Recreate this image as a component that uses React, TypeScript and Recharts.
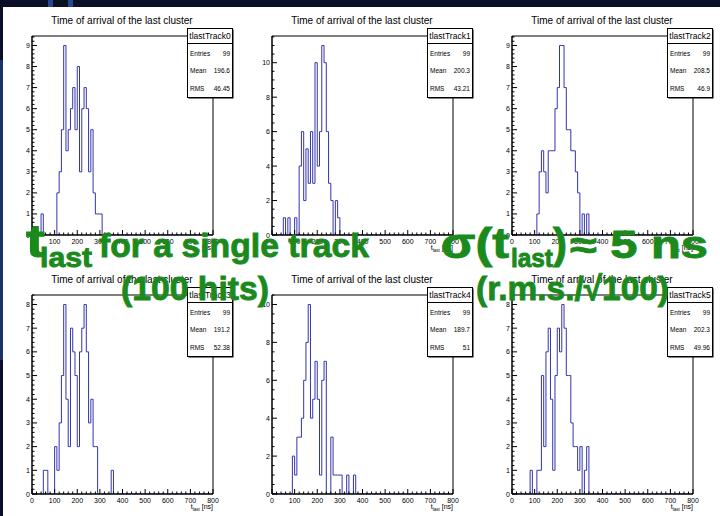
import React from "react";
import { LineChart, Line, XAxis, YAxis, ReferenceArea } from "recharts";

// histogram binning (ns)
const BIN_WIDTH = 10;
const X_MAX = 800;
const X_LABELS = [0, 100, 200, 300, 400, 500, 600, 700, 800];
const X_MINOR_STEP = 20;

const track0Bins = [40, 110, 120, 130, 140, 150, 160, 170, 180, 190, 200, 210, 220, 230, 240, 250, 260, 270, 280, 290, 300];
const track0Counts = [1, 2, 3, 5, 9, 4, 5, 6, 7, 5, 8, 3, 6, 7, 6, 3, 5, 2, 1, 1, 1];

const track1Bins = [50, 70, 100, 120, 130, 140, 150, 160, 170, 180, 190, 200, 210, 220, 230, 240, 250, 260, 280, 290];
const track1Counts = [1, 1, 1, 4, 6, 2, 5, 3, 6, 3, 10, 4, 6, 11, 10, 6, 3, 2, 2, 1];

const track2Bins = [110, 120, 130, 140, 150, 160, 170, 180, 190, 200, 210, 220, 230, 240, 250, 260, 270, 280, 290, 310, 330];
const track2Counts = [1, 3, 4, 3, 2, 4, 4, 4, 6, 7, 9, 9, 7, 5, 5, 4, 4, 3, 2, 1, 1];

const track3Bins = [50, 60, 100, 110, 120, 130, 140, 150, 160, 170, 180, 190, 200, 210, 220, 230, 240, 250, 260, 270, 280, 350];
const track3Counts = [1, 1, 2, 1, 3, 5, 8, 4, 2, 7, 6, 5, 2, 6, 7, 8, 6, 3, 4, 2, 2, 1];

const track4Bins = [90, 100, 110, 120, 130, 140, 150, 160, 170, 180, 190, 200, 210, 220, 230, 260, 270, 280, 290, 300, 330, 360];
const track4Counts = [2, 1, 3, 3, 4, 6, 8, 10, 4, 5, 7, 5, 1, 6, 7, 3, 1, 1, 1, 1, 1, 1];

const track5Bins = [80, 110, 120, 130, 140, 150, 160, 170, 180, 190, 200, 210, 220, 230, 240, 250, 260, 270, 280, 290, 300, 320, 330];
const track5Counts = [1, 1, 1, 5, 2, 6, 7, 4, 1, 5, 7, 6, 8, 7, 5, 5, 3, 2, 2, 1, 2, 1, 2];

// stats boxes
const trackNames = ["tlastTrack0", "tlastTrack1", "tlastTrack2", "tlastTrack3", "tlastTrack4", "tlastTrack5"];
const trackEntries = ["99", "99", "99", "99", "99", "99"];
const trackMeans = ["196.6", "200.3", "208.5", "191.2", "189.7", "202.3"];
const trackRms = ["46.45", "43.21", "46.9", "52.38", "51", "49.96"];

const allBins = [track0Bins, track1Bins, track2Bins, track3Bins, track4Bins, track5Bins];
const allCounts = [track0Counts, track1Counts, track2Counts, track3Counts, track4Counts, track5Counts];

const FONT = "'Liberation Sans', Arial, Helvetica, sans-serif";
const HIST_COLOR = "#3434b0";
const GREEN = "#1b8a1d";

const PAD_W = 240;
const PAD_H = 259;

function buildSeries(bins: number[], counts: number[]) {
  const rows: { t: number; n: number }[] = [];
  for (let t = 0; t <= X_MAX; t += BIN_WIDTH) {
    const i = bins.indexOf(t);
    rows.push({ t, n: i >= 0 ? counts[i] : 0 });
  }
  return rows;
}

const xTicks: number[] = [];
for (let v = 0; v <= X_MAX; v += X_MINOR_STEP) xTicks.push(v);

function XTick(props: any) {
  const { x, y, payload } = props;
  const v = payload.value;
  const major = X_LABELS.includes(v);
  return (
    <g>
      <line x1={x} x2={x} y1={y} y2={y - (major ? 5 : 2.5)} stroke="#000" strokeWidth={1} />
      {major && (
        <text x={x} y={y + 9} textAnchor="middle" fontSize={7} fontFamily={FONT} fill="#000">
          {v}
        </text>
      )}
    </g>
  );
}

function makeYTick(step: number) {
  return (props: any) => {
    const { x, y, payload } = props;
    const v = payload.value;
    const major = Math.abs(v / step - Math.round(v / step)) < 1e-6;
    return (
      <g>
        <line x1={x} x2={x + (major ? 5 : 2.5)} y1={y} y2={y} stroke="#000" strokeWidth={1} />
        {major && (
          <text x={x - 2} y={y + 2.5} textAnchor="end" fontSize={7} fontFamily={FONT} fill="#000">
            {v}
          </text>
        )}
      </g>
    );
  };
}

function Pad({ idx }: { idx: number }) {
  const data = buildSeries(allBins[idx], allCounts[idx]);
  const peak = Math.max(...allCounts[idx]);
  const yMax = peak * 1.05;
  const step = peak >= 10 ? 2 : 1;
  const minor = step === 2 ? 0.5 : 0.2;
  const yTicks: number[] = [];
  for (let i = 0; i * minor <= yMax + 1e-9; i++) yTicks.push(+(i * minor).toFixed(2));

  const col = idx % 3;
  const row = Math.floor(idx / 3);

  return (
    <div
      style={{
        position: "absolute",
        left: 3 + col * PAD_W,
        top: 7 + row * PAD_H,
        width: PAD_W,
        height: PAD_H,
      }}
    >
      <LineChart
        width={PAD_W}
        height={PAD_H}
        data={data}
        margin={{ top: 29, right: 30, bottom: 30, left: 28 }}
      >
        <XAxis
          type="number"
          dataKey="t"
          domain={[0, X_MAX]}
          ticks={xTicks}
          interval={0}
          height={1}
          tickSize={0}
          tickMargin={0}
          tickLine={false}
          axisLine={{ stroke: "#000" }}
          tick={XTick}
          allowDataOverflow
        />
        <YAxis
          type="number"
          domain={[0, yMax]}
          ticks={yTicks}
          interval={0}
          width={1}
          tickSize={0}
          tickMargin={0}
          tickLine={false}
          axisLine={{ stroke: "#000" }}
          tick={makeYTick(step)}
          allowDataOverflow
        />
        <ReferenceArea x1={0} x2={X_MAX} y1={0} y2={yMax} fill="none" stroke="#000" strokeWidth={1} />
        <Line
          type="stepAfter"
          dataKey="n"
          stroke={HIST_COLOR}
          strokeWidth={1}
          dot={false}
          isAnimationActive={false}
        />
      </LineChart>
      <svg
        width={PAD_W}
        height={PAD_H}
        style={{ position: "absolute", left: 0, top: 0, pointerEvents: "none" }}
        fontFamily={FONT}
      >
        <text x={119} y={17} textAnchor="middle" fontSize={10} fill="#000">
          Time of arrival of the last cluster
        </text>
        <rect x={185.5} y={22.5} width={45} height={69} fill="#000" />
        <rect x={184.5} y={21.5} width={45} height={69} fill="#fff" stroke="#000" strokeWidth={1} />
        <line x1={184.5} x2={229.5} y1={36.5} y2={36.5} stroke="#000" strokeWidth={1} />
        <text x={207} y={32} textAnchor="middle" fontSize={8.5} fill="#000">
          {trackNames[idx]}
        </text>
        <text x={187} y={48.5} fontSize={6.5} fill="#000">Entries</text>
        <text x={227} y={48.5} fontSize={6.5} fill="#000" textAnchor="end">{trackEntries[idx]}</text>
        <text x={187} y={66} fontSize={6.5} fill="#000">Mean</text>
        <text x={227} y={66} fontSize={6.5} fill="#000" textAnchor="end">{trackMeans[idx]}</text>
        <text x={187} y={83.5} fontSize={6.5} fill="#000">RMS</text>
        <text x={227} y={83.5} fontSize={6.5} fill="#000" textAnchor="end">{trackRms[idx]}</text>
        <text x={210} y={243} textAnchor="end" fontSize={7} fill="#000">
          t<tspan fontSize={4.5} dy={1.5}>last</tspan>
          <tspan fontSize={7} dy={-1.5}> [ns]</tspan>
        </text>
      </svg>
    </div>
  );
}

export default function App() {
  return (
    <div
      style={{
        position: "absolute",
        left: 0,
        top: 0,
        width: 720,
        height: 516,
        overflow: "hidden",
        background: "#0a0f25",
        fontFamily: FONT,
      }}
    >
      <div style={{ position: "absolute", left: 48, top: 0, width: 5, height: 7, background: "#28468f" }} />
      <div style={{ position: "absolute", left: 68, top: 0, width: 5, height: 7, background: "#28468f" }} />
      <div style={{ position: "absolute", left: 0, top: 60, width: 3, height: 300, background: "#1b3366" }} />
      <div style={{ position: "absolute", left: 3, top: 7, width: 717, height: 509, background: "#fff" }} />
      {[0, 1, 2, 3, 4, 5].map((i) => (
        <Pad key={i} idx={i} />
      ))}
      <svg
        width={720}
        height={516}
        style={{ position: "absolute", left: 0, top: 0, pointerEvents: "none" }}
        fontFamily={FONT}
        fontWeight="bold"
        fill={GREEN}
        stroke={GREEN}
        strokeWidth={0.9}
      >
        <text x={26} y={257} fontSize={46} textLength={19} lengthAdjust="spacingAndGlyphs">t</text>
        <text x={40} y={267} fontSize={27} textLength={52} lengthAdjust="spacingAndGlyphs">last</text>
        <text x={99} y={257} fontSize={34} textLength={270} lengthAdjust="spacingAndGlyphs">for a single track</text>
        <text x={121} y={300} fontSize={34} textLength={148} lengthAdjust="spacingAndGlyphs">(100 hits)</text>
        <text x={441} y={258} fontSize={42} textLength={68} lengthAdjust="spacingAndGlyphs">σ(t</text>
        <text x={511} y={267} fontSize={25} textLength={42} lengthAdjust="spacingAndGlyphs">last</text>
        <text x={553} y={258} fontSize={42}>)</text>
        <text x={570} y={258} fontSize={38} textLength={138} lengthAdjust="spacingAndGlyphs">≈ 5 ns</text>
        <text x={476} y={300} fontSize={34} textLength={193} lengthAdjust="spacingAndGlyphs">(r.m.s./√100)</text>
      </svg>
    </div>
  );
}
